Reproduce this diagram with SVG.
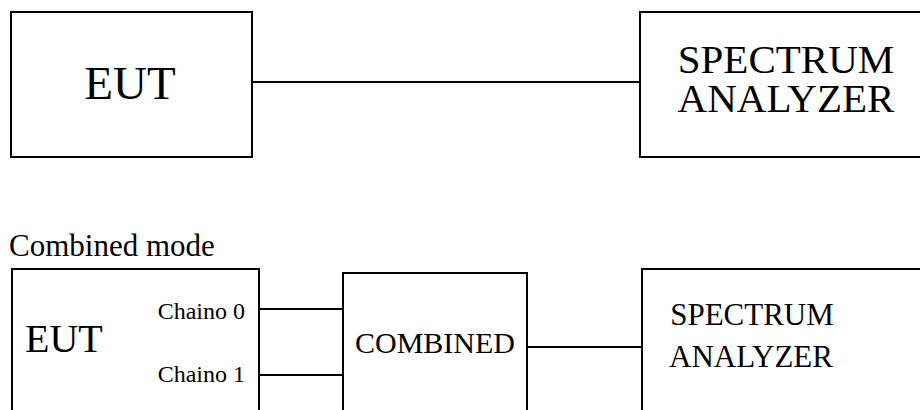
<svg xmlns="http://www.w3.org/2000/svg" width="920" height="410" viewBox="0 0 920 410">
<style>
.box{fill:#fff;stroke:#000;stroke-width:2}
.wire{stroke:#000;stroke-width:2;fill:none}
.t{font-family:"Liberation Serif","Times New Roman",serif;fill:#000}
</style>
<rect width="920" height="410" fill="#fff"/>
<g id="connectors">
<line class="wire" x1="252" y1="82" x2="640" y2="82"/>
<line class="wire" x1="259" y1="309" x2="343" y2="309"/>
<line class="wire" x1="259" y1="375" x2="343" y2="375"/>
<line class="wire" x1="527" y1="347" x2="642" y2="347"/>
</g>
<g id="eut-top">
<rect class="box" x="11" y="12" width="241" height="145"/>
<text class="t" x="130" y="99" font-size="47" text-anchor="middle">EUT</text>
</g>
<g id="sa-top">
<rect class="box" x="640" y="12" width="290" height="145"/>
<text class="t" x="786" y="73" font-size="41" text-anchor="middle">SPECTRUM</text>
<text class="t" x="786" y="112" font-size="41" text-anchor="middle">ANALYZER</text>
</g>
<text id="mode-label" class="t" x="9" y="256" font-size="31">Combined mode</text>
<g id="eut-bottom">
<rect class="box" x="12" y="269" width="247" height="150"/>
<text class="t" x="25" y="352" font-size="40">EUT</text>
<text class="t" x="245" y="319" font-size="24" text-anchor="end">Chaino 0</text>
<text class="t" x="245" y="382" font-size="24" text-anchor="end">Chaino 1</text>
</g>
<g id="combined">
<rect class="box" x="343" y="273" width="184" height="150"/>
<text class="t" x="435" y="353" font-size="30" text-anchor="middle">COMBINED</text>
</g>
<g id="sa-bottom">
<rect class="box" x="642" y="269" width="290" height="150"/>
<text class="t" x="752" y="325" font-size="31" text-anchor="middle">SPECTRUM</text>
<text class="t" x="751" y="367" font-size="31" text-anchor="middle">ANALYZER</text>
</g>
</svg>
